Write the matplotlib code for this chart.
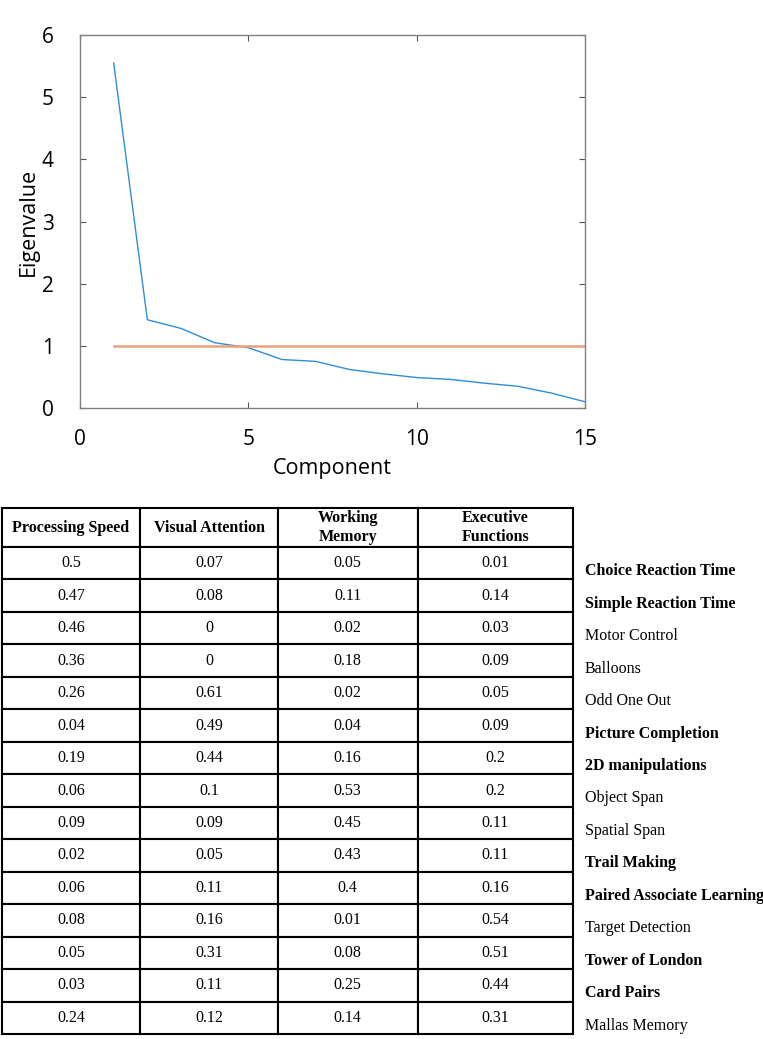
import matplotlib
matplotlib.use("Agg")
import matplotlib.pyplot as plt

# ---- data ----
components = list(range(1, 16))
eigenvalues = [5.55, 1.42, 1.28, 1.05, 0.97, 0.78, 0.75, 0.62, 0.55, 0.49, 0.46, 0.40, 0.35, 0.24, 0.10]
threshold = [1.0] * 15

x_ticks = [0, 5, 10, 15]
y_ticks = [0, 1, 2, 3, 4, 5, 6]

col_headers = ["Processing Speed", "Visual Attention", "Working\nMemory", "Executive\nFunctions"]
processing_speed = [0.5, 0.47, 0.46, 0.36, 0.26, 0.04, 0.19, 0.06, 0.09, 0.02, 0.06, 0.08, 0.05, 0.03, 0.24]
visual_attention = [0.07, 0.08, 0, 0, 0.61, 0.49, 0.44, 0.1, 0.09, 0.05, 0.11, 0.16, 0.31, 0.11, 0.12]
working_memory = [0.05, 0.11, 0.02, 0.18, 0.02, 0.04, 0.16, 0.53, 0.45, 0.43, 0.4, 0.01, 0.08, 0.25, 0.14]
executive_functions = [0.01, 0.14, 0.03, 0.09, 0.05, 0.09, 0.2, 0.2, 0.11, 0.11, 0.16, 0.54, 0.51, 0.44, 0.31]
tests = ["Choice Reaction Time", "Simple Reaction Time", "Motor Control", "Balloons",
         "Odd One Out", "Picture Completion", "2D manipulations", "Object Span",
         "Spatial Span", "Trail Making", "Paired Associate Learning", "Target Detection",
         "Tower of London", "Card Pairs", "Mallas Memory"]
tests_bold = [True, True, False, False, False, True, True, False, False, True, True,
              False, True, True, False]

W, H = 763, 1039
fig = plt.figure(figsize=(W / 100, H / 100), dpi=100)

# ---- scree plot ----
ax = fig.add_axes([80 / W, 1 - 408 / H, 505 / W, 373 / H])
ax.plot(components, eigenvalues, color="#2f8dd6", lw=1.0)
ax.plot(components, threshold, color="#e6a27c", lw=1.8)
ax.set_xlim(0, 15)
ax.set_ylim(0, 6)
ax.set_xticks(x_ticks)
ax.set_yticks(y_ticks)
for s in ax.spines.values():
    s.set_color("#808080")
    s.set_linewidth(1.0)
ax.tick_params(direction="in", length=4, width=0.8, color="#555555",
               top=True, right=True, labelsize=15)
ax.tick_params(axis="x", pad=15)
ax.tick_params(axis="y", pad=19)
for lab in ax.get_xticklabels() + ax.get_yticklabels():
    lab.set_fontfamily("Open Sans")
ax.set_xlabel("Component", fontsize=15.5, family="Open Sans", labelpad=6)
ax.set_ylabel("Eigenvalue", fontsize=15.5, family="Open Sans", labelpad=2)

# ---- table ----
tx0, tx1, ty0, ty1 = 2, 573, 508, 1034
tax = fig.add_axes([tx0 / W, 1 - ty1 / H, (tx1 - tx0) / W, (ty1 - ty0) / H])
tax.axis("off")
rows = [[str(a), str(b), str(c), str(d)] for a, b, c, d in
        zip(processing_speed, visual_attention, working_memory, executive_functions)]
col_w = [138, 138, 139.5, 155.5]
tot_w = sum(col_w)
tbl = tax.table(cellText=rows, colLabels=col_headers, cellLoc="center",
                colWidths=[w / tot_w for w in col_w], bbox=[0, 0, 1, 1])
tbl.auto_set_font_size(False)
header_h = 39
body_h = (ty1 - ty0 - header_h) / len(rows)
for (r, c), cell in tbl.get_celld().items():
    cell.set_linewidth(1.5)
    cell.set_edgecolor("black")
    cell.set_height((header_h if r == 0 else body_h) / (ty1 - ty0))
    t = cell.get_text()
    t.set_fontfamily("Liberation Serif")
    t.set_fontsize(11.5)
    if r == 0:
        t.set_fontweight("bold")
        t.set_linespacing(1.2)

# labels on the right of the table, aligned to the rows
lab_x = (585 - tx0) / (tx1 - tx0)
for i, (name, b) in enumerate(zip(tests, tests_bold)):
    ycen = (ty1 - ty0 - header_h - (i + 0.5) * body_h) / (ty1 - ty0)
    tax.text(lab_x, ycen - 8 / (ty1 - ty0), name,
             transform=tax.transAxes, ha="left", va="center",
             fontsize=11.5, family="Liberation Serif",
             fontweight="bold" if b else "normal", clip_on=False)

fig.savefig("out.png", dpi=100)
